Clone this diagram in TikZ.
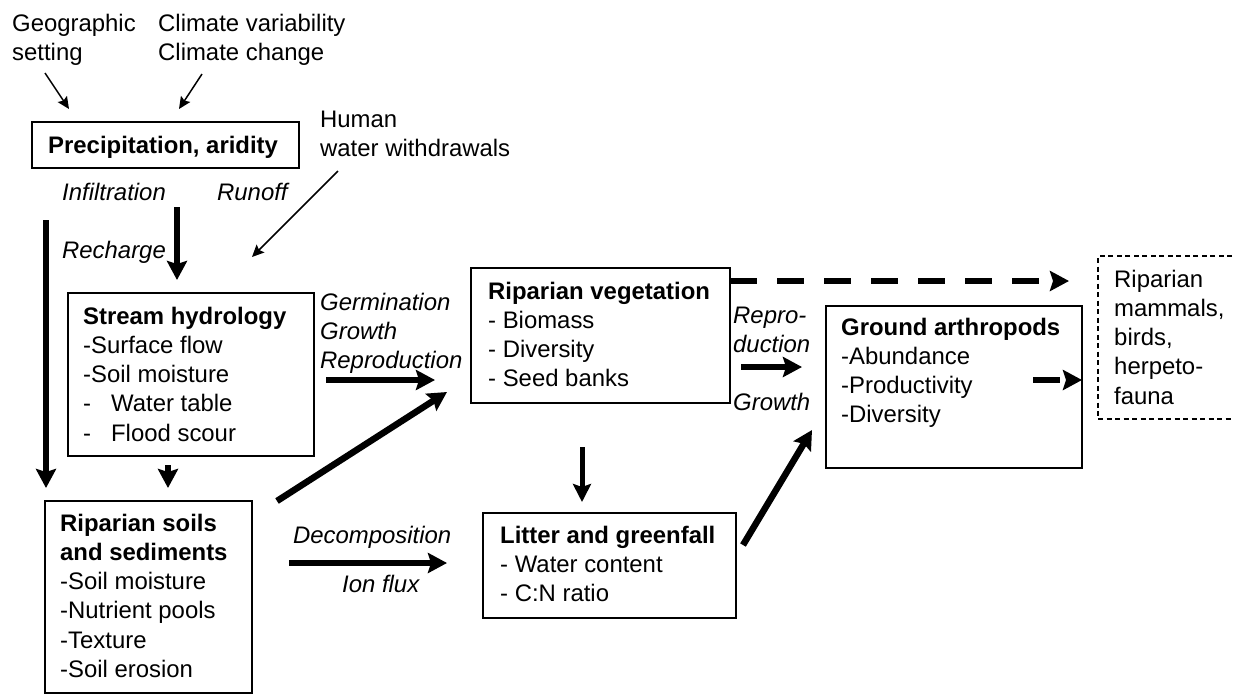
\documentclass[tikz,border=0pt]{standalone}
\usepackage{fontspec}
\setmainfont{Liberation Sans}
\usetikzlibrary{arrows.meta}
\newcommand\mylines[1]{\begin{tabular}[t]{@{}l@{}}#1\end{tabular}}
\begin{document}
\begin{tikzpicture}[x=1pt,y=-1pt,
  font=\fontsize{23.9}{29.3}\selectfont,
  box/.style={draw, line width=1.5pt, inner sep=0pt},
  dashbox/.style={draw, line width=1.2pt, dash pattern=on 5pt off 3.5pt, inner sep=0pt},
  txt/.style={anchor=base west, inner sep=0pt},
  thinarr/.style={line width=1.5pt, -{Stealth[length=12pt,width=11pt,inset=2pt]}},
  thickarr/.style={line width=6.5pt, -{Stealth[length=19pt,width=20pt,inset=3pt]}},
  medarr/.style={line width=5pt, -{Stealth[length=18pt,width=18pt,inset=3pt]}},
  dasharr/.style={line width=6.5pt, dash pattern=on 27pt off 20pt, -{Stealth[length=19pt,width=20pt,inset=3pt]}}
]
\useasboundingbox (0,0) rectangle (1233,694);
\clip (0,0) rectangle (1233,694);

% boxes
\node[box, minimum width=267pt, minimum height=46pt] (precip) at (165.5,145) {};
\node[box, minimum width=246pt, minimum height=163pt] (stream) at (191,374.5) {};
\node[box, minimum width=207pt, minimum height=192pt] (soils) at (148.5,597) {};
\node[box, minimum width=259pt, minimum height=135pt] (veg) at (600.5,335.5) {};
\node[box, minimum width=253pt, minimum height=105pt] (litter) at (609.5,565.5) {};
\node[box, minimum width=256pt, minimum height=162pt] (arth) at (954,387) {};
\node[dashbox, minimum width=147pt, minimum height=163pt] (mamm) at (1171.5,337.5) {};

% texts
\node[txt] (geo) at (12,31) {\mylines{Geographic\\setting}};
\node[txt] (clim) at (158,31) {\mylines{Climate variability\\Climate change}};
\node[txt] (human) at (320,127) {\mylines{Human\\water withdrawals}};
\node[txt] (precipT) at (48,153) {\textbf{Precipitation, aridity}};
\node[txt] (infil) at (62,200) {\itshape Infiltration};
\node[txt] (runoff) at (217,200) {\itshape Runoff};
\node[txt] (recharge) at (62,258) {\itshape Recharge};
\node[txt] (streamT) at (83,324) {\mylines{\textbf{Stream hydrology}\\-Surface flow\\-Soil moisture\\-\hspace{20pt}Water table\\-\hspace{20pt}Flood scour}};
\node[txt] (germ) at (320,310) {\itshape\mylines{Germination\\Growth\\Reproduction}};
\node[txt] (vegT) at (488,299) {\mylines{\textbf{Riparian vegetation}\\- Biomass\\- Diversity\\- Seed banks}};
\node[txt] (soilsT) at (60,531) {\mylines{\textbf{Riparian soils}\\\textbf{and sediments}\\-Soil moisture\\-Nutrient pools\\-Texture\\-Soil erosion}};
\node[txt] (decomp) at (293,543) {\itshape Decomposition};
\node[txt] (ionflux) at (342,592) {\itshape Ion flux};
\node[txt] (litterT) at (500,543) {\mylines{\textbf{Litter and greenfall}\\- Water content\\- C:N ratio}};
\node[txt] (repro) at (733,323) {\itshape\mylines{Repro-\\duction}};
\node[txt] (growth) at (733,410) {\itshape Growth};
\node[txt] (arthT) at (841,335) {\mylines{\textbf{Ground arthropods}\\-Abundance\\-Productivity\\-Diversity}};
\node[txt] (mammT) at (1114,287) {\mylines{Riparian\\mammals,\\birds,\\herpeto-\\fauna}};

% connector end points
\coordinate (g1) at (45,73);   \coordinate (g2) at (69,109);
\coordinate (c1) at (202,74);  \coordinate (c2) at (179,109);
\coordinate (h1) at (338,171); \coordinate (h2) at (252,257);
\coordinate (r1) at (177,207); \coordinate (r2) at (177,280);
\coordinate (l1) at (46,220);  \coordinate (l2) at (46,488);
\coordinate (s1) at (168,465); \coordinate (s2) at (168,488);
\coordinate (d1) at (277,501); \coordinate (d2) at (447,392);
\coordinate (p1) at (326,380); \coordinate (p2) at (435,380);
\coordinate (v1) at (582,447); \coordinate (v2) at (582,502);
\coordinate (e1) at (289,563); \coordinate (e2) at (447,563);
\coordinate (t1) at (743,545); \coordinate (t2) at (812,430);
\coordinate (a1) at (741,367); \coordinate (a2) at (802,367);
\coordinate (m1) at (730,281); \coordinate (m2) at (1069,281);
\coordinate (k1) at (1033,380); \coordinate (k2) at (1082,380);

% connectors
\draw[thinarr] (g1) -- (g2);
\draw[thinarr] (c1) -- (c2);
\draw[thinarr] (h1) -- (h2);
\draw[thickarr] (r1) -- (r2);
\draw[thickarr] (l1) -- (l2);
\draw[thickarr] (s1) -- (s2);
\draw[thickarr] (d1) -- (d2);
\draw[thickarr] (p1) -- (p2);
\draw[medarr] (v1) -- (v2);
\draw[thickarr] (e1) -- (e2);
\draw[thickarr] (t1) -- (t2);
\draw[thickarr] (a1) -- (a2);
\draw[dasharr] (m1) -- (m2);
\draw[dasharr] (k1) -- (k2);
\end{tikzpicture}
\end{document}
